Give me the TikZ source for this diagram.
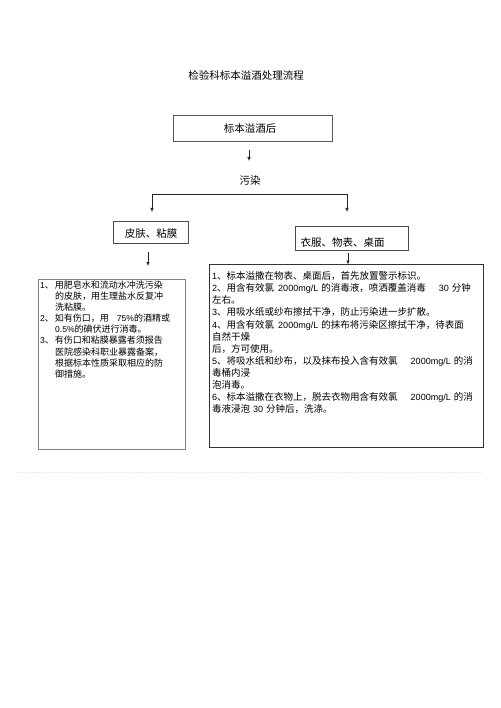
\documentclass[tikz,border=0pt]{standalone}
\usepackage{fontspec}
\setmainfont{Noto Sans CJK SC}
\newfontfamily\lat{Liberation Sans}[Scale=0.95]
\usetikzlibrary{arrows.meta}
\begin{document}
\begin{tikzpicture}[x=1pt,y=-1pt,
  frame/.style={draw=#1, line width=0.8pt, inner sep=0pt},
  arr/.style={-{Latex[length=4pt,width=3.5pt]}, line width=0.6pt, draw=black!85, fill=black!85},
  heading/.style={inner sep=0pt, font=\fontsize{10.5}{12}\selectfont},
  ltxt/.style={anchor=base west, inner sep=0pt, font=\fontsize{9}{11}\selectfont},
  rtxt/.style={anchor=base west, inner sep=0pt, font=\fontsize{9.5}{11}\selectfont}]
\fill[white] (0,0) rectangle (500,708);
\useasboundingbox (0,0) rectangle (500,708);

% title and first box
\node[heading] (title) at (246,75) {检验科标本溢酒处理流程};
\node[frame=black!65, minimum width=159pt, minimum height=26pt] (b1) at (252.5,128) {};
\node[heading] (t1) at (250,129) {标本溢酒后};
\coordinate (a1s) at (249,150);
\coordinate (a1e) at (249,161);
\draw[arr] (a1s) -- (a1e);
\node[heading] (pol) at (250,181) {污染};

% branching connector
\coordinate (hl) at (152,194);
\coordinate (hr) at (347,194);
\coordinate (hle) at (152,212);
\coordinate (hre) at (347,212);
\draw[line width=0.7pt, black!85] (hl) -- (hr);
\draw[arr] (hl) -- (hle);
\draw[arr] (hr) -- (hre);

% second level boxes
\node[frame=black!70, minimum width=75pt, minimum height=22pt] (bl) at (150.5,232) {};
\node[heading] (tl) at (151,234) {皮肤、粘膜};
\node[frame=black!70, minimum width=113pt, minimum height=24pt] (br) at (351.5,238) {};
\node[heading] (tr) at (342.5,242) {衣服、物表、桌面};

\coordinate (l2s) at (148,252);
\coordinate (l2e) at (148,266);
\draw[arr] (l2s) -- (l2e);
\coordinate (r2s) at (348,253);
\coordinate (r2e) at (348,264.5);
\draw[arr] (r2s) -- (r2e);

% detail boxes
\node[frame=black!50, minimum width=147pt, minimum height=170pt] (dl) at (111.5,364) {};
\node[frame=black!80, minimum width=274pt, minimum height=183pt] (dr) at (346,355.5) {};

% left box text
\node[ltxt] (l1) at (40,288.4) {{\lat 1}、\hspace{1pt}用肥皂水和流动水冲洗污染};
\node[ltxt] (l2) at (55,299.5) {的皮肤，用生理盐水反复冲};
\node[ltxt] (l3) at (55,310.6) {洗粘膜。};
\node[ltxt] (l4) at (40,321.7) {{\lat 2}、\hspace{1pt}如有伤口，用\hspace{8pt}{\lat 75\%}的酒精或};
\node[ltxt] (l5) at (55,332.8) {{\lat 0.5\%}的碘伏进行消毒。};
\node[ltxt] (l6) at (40,343.9) {{\lat 3}、\hspace{1pt}有伤口和粘膜暴露者须报告};
\node[ltxt] (l7) at (55,355.0) {医院感染科职业暴露备案，};
\node[ltxt] (l8) at (55,366.1) {根据标本性质采取相应的防};
\node[ltxt] (l9) at (55,377.2) {御措施。};

% right box text
\node[rtxt] (r1) at (212,279.6) {{\lat 1}、标本溢撒在物表、桌面后，首先放置警示标识。};
\node[rtxt] (r2) at (212,291.7) {{\lat 2}、用含有效氯\hspace{4pt}{\lat 2000mg/L}\hspace{3pt}的消毒液，喷洒覆盖消毒\hspace{13pt}{\lat 30}\hspace{3pt}分钟};
\node[rtxt] (r3) at (212,303.8) {左右。};
\node[rtxt] (r4) at (212,315.9) {{\lat 3}、用吸水纸或纱布擦拭干净，防止污染进一步扩散。};
\node[rtxt] (r5) at (212,328.0) {{\lat 4}、用含有效氯\hspace{4pt}{\lat 2000mg/L}\hspace{3pt}的抹布将污染区擦拭干净，待表面};
\node[rtxt] (r6) at (212,340.1) {自然干燥};
\node[rtxt] (r7) at (212,352.2) {后，方可使用。};
\node[rtxt] (r8) at (212,364.3) {{\lat 5}、将吸水纸和纱布，以及抹布投入含有效氯\hspace{13pt}{\lat 2000mg/L}\hspace{3pt}的消};
\node[rtxt] (r9) at (212,376.4) {毒桶内浸};
\node[rtxt] (r10) at (212,388.5) {泡消毒。};
\node[rtxt] (r11) at (212,400.6) {{\lat 6}、标本溢撒在衣物上，脱去衣物用含有效氯\hspace{13pt}{\lat 2000mg/L}\hspace{3pt}的消};
\node[rtxt] (r12) at (212,412.7) {毒液浸泡\hspace{3pt}{\lat 30}\hspace{3pt}分钟后，洗涤。};

% faint page rule
\coordinate (pl) at (16,472);
\coordinate (pr) at (483,472);
\draw[black!12, dotted, line width=0.6pt] (pl) -- (pr);
\end{tikzpicture}
\end{document}
